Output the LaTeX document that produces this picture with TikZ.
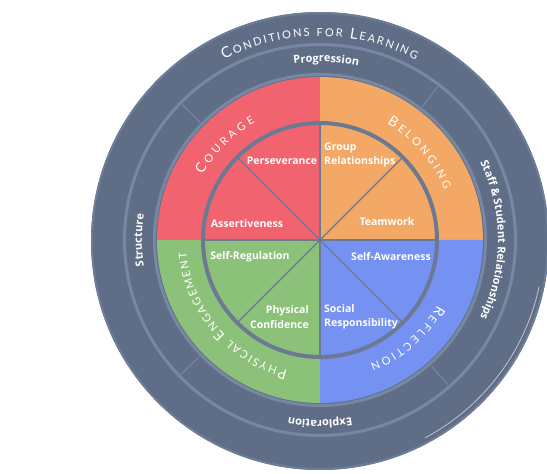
\documentclass[tikz,border=0pt]{standalone}
\usepackage{fontspec}
\setmainfont{Open Sans}
\newfontfamily\capsfont{Lato}
\usetikzlibrary{decorations.text}
\definecolor{ringdark}{HTML}{5F6E86}
\definecolor{ringrim}{HTML}{6D7D97}
\definecolor{ringlight}{HTML}{7788A3}
\definecolor{spokegray}{HTML}{6B7A92}
\definecolor{couragered}{HTML}{F0636F}
\definecolor{belongorange}{HTML}{F3A865}
\definecolor{physgreen}{HTML}{8CC17A}
\definecolor{reflectblue}{HTML}{7591F2}
\def\titleL{\capsfont\fontsize{15}{15}\selectfont}
\def\titleS{\capsfont\fontsize{11}{11}\selectfont}
\def\capsL{\capsfont\fontsize{14}{14}\selectfont}
\def\capsS{\capsfont\fontsize{11}{11}\selectfont}
\def\bandfont{\bfseries\fontsize{11}{12}\selectfont}
\tikzset{
	inlabel/.style={text=white, inner sep=0pt,
		font=\bfseries\fontsize{10.5}{14.5}\selectfont},
	divider/.style={draw=ringlight, line width=1},
	spoke/.style={draw=spokegray, line width=1.2},
	band line/.style={draw=ringlight, line width=3}
}
% text on a band: radius, start angle, end angle, text
\def\BandText#1#2#3#4{%
	\path[decorate, decoration={text along path, text align=center,
		text color=white, text={|\bandfont|#4}}]
		(#2:#1) arc[start angle=#2, end angle=#3, radius=#1];
}
\def\CapsText#1#2#3#4{%
	\path[decorate, decoration={text along path, text align=fit to path,
		text color=white, text={#4}}]
		(#2:#1) arc[start angle=#2, end angle=#3, radius=#1];
}

\begin{document}
\begin{tikzpicture}[x=1pt, y=1pt]
\useasboundingbox (-320,-234) rectangle (227,240);
% outer rings
\fill[ringdark] (0,-1) circle[radius=229];
\draw[ringrim, line width=2] (0,-1) circle[radius=228];
\draw[white, opacity=0.6, line width=0.8] (-12:224) arc[start angle=-12, end angle=-62, radius=224];
\draw[band line] (0,0) circle[radius=195.5];
\draw[band line] (0,0) circle[radius=165.5];
\foreach \a in {52.5,135.5,224,311.5}
	\draw[divider] (\a:168) -- (\a:193);
% coloured quarters
\foreach \a/\c in {0/belongorange, 90/couragered, 180/physgreen, 270/reflectblue}
	\fill[\c] (0,0) -- (\a:163) arc[start angle=\a, delta angle=90, radius=163] -- cycle;
\foreach \a in {0,45,...,315}
	\draw[spoke] (0,0) -- (\a:116);
\draw[spokegray, line width=4] (0,0) circle[radius=117];
% band texts
\CapsText{204}{118}{62}{|\titleL|C|\titleS|ONDITIONS FOR |\titleL|L|\titleS|EARNING}
\BandText{178}{148}{28}{Progression}
\BandText{178}{60}{-60}{Staff {\&} Student Relationships}
\BandText{180}{-30}{-150}{Exploration}
\BandText{178}{240}{120}{Structure}
\CapsText{134}{151}{119}{|\capsL|C|\capsS|OURAGE}
\CapsText{134}{60}{22}{|\capsL|B|\capsS|ELONGING}
\CapsText{134}{-29}{-68}{|\capsL|R|\capsS|EFLECTION}
\CapsText{134}{256}{185}{|\capsL|P|\capsS|HYSICAL |\capsL|E|\capsS|NGAGEMENT}
% inner labels
\node[inlabel] (perseverance) at (-38,79) {Perseverance};
\node[inlabel, anchor=west, align=left] (grouprel) at (4,85) {Group\\Relationships};
\node[inlabel] (assertive) at (-73,16) {Assertiveness};
\node[inlabel] (teamwork) at (67,18) {Teamwork};
\node[inlabel] (selfreg) at (-70,-17) {Self-Regulation};
\node[inlabel] (selfaware) at (71,-17) {Self-Awareness};
\node[inlabel, anchor=east, align=right] (physconf) at (-11,-77) {Physical\\Confidence};
\node[inlabel, anchor=west, align=left] (socialresp) at (4,-77) {Social\\Responsibility};
\end{tikzpicture}
\end{document}
